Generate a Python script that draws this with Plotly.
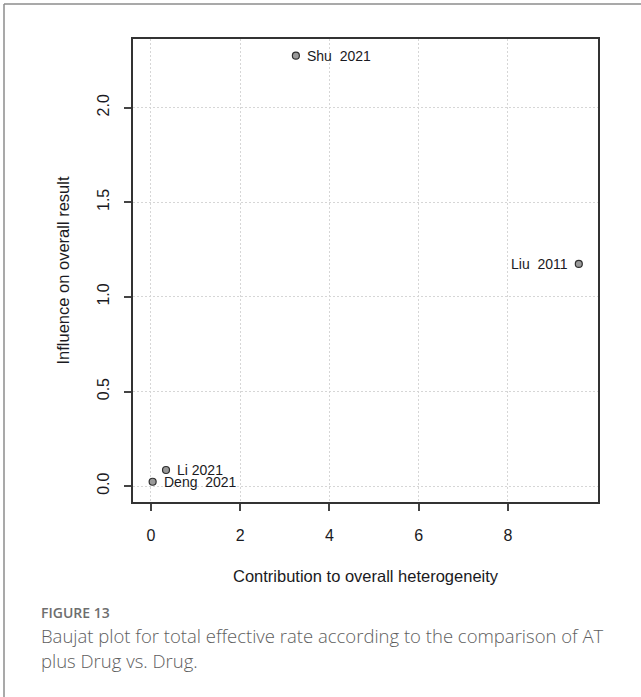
import plotly.graph_objects as go

# ---- data ----
studies = ["Shu\u00a0 2021", "Liu\u00a0 2011", "Li 2021", "Deng\u00a0 2021"]
heterogeneity = [3.25, 9.59, 0.34, 0.04]
influence = [2.275, 1.174, 0.085, 0.023]
label_side = ["right", "left", "right", "right"]
x_ticks = [0, 2, 4, 6, 8]
y_ticks = [0.0, 0.5, 1.0, 1.5, 2.0]
y_tick_text = ["0.0", "0.5", "1.0", "1.5", "2.0"]

W, H = 641, 697
L, R, T, B = 133, 598, 39, 502  # plot box in pixels
CHART_FONT = "Liberation Sans, Arial, sans-serif"
TEXT_COL = "#1a1a22"

def px(x):
    return x / W

def py(y):
    return 1 - y / H

fig = go.Figure()
fig.add_trace(go.Scatter(
    x=heterogeneity, y=influence, mode="markers",
    marker=dict(size=7, color="#9a9a9a", line=dict(color="#2e2e2e", width=1.2)),
    hoverinfo="skip", showlegend=False, cliponaxis=False,
))

axis_common = dict(
    showline=True, linecolor="#333333", linewidth=1.5, mirror=True,
    ticks="outside", ticklen=7, tickwidth=1.5, tickcolor="#444444",
    showgrid=True, gridcolor="#d6d6d6", griddash="2px,2px", gridwidth=1,
    zeroline=False, automargin=False,
    tickfont=dict(family=CHART_FONT, size=16, color=TEXT_COL),
)

point_labels = []
for name, xv, yv, side in zip(studies, heterogeneity, influence, label_side):
    point_labels.append(dict(
        text=name, x=xv, y=yv, xref="x", yref="y", showarrow=False,
        xanchor="left" if side == "right" else "right", yanchor="middle",
        xshift=9 if side == "right" else -9,
        font=dict(family=CHART_FONT, size=14, color=TEXT_COL),
    ))

fig.update_layout(
    width=W, height=H,
    margin=dict(l=0, r=0, t=0, b=0),
    paper_bgcolor="white", plot_bgcolor="white",
    xaxis=dict(domain=[px(L), px(R)], range=[-0.40, 10.02],
               tickvals=x_ticks, ticklabelstandoff=11, **axis_common),
    yaxis=dict(domain=[py(B), py(T)], range=[-0.084, 2.363],
               tickvals=y_ticks, ticktext=y_tick_text, tickangle=-90,
               ticklabelstandoff=9, **axis_common),
    shapes=[
        dict(type="line", xref="paper", yref="paper", x0=px(4), x1=1.0, y0=py(4), y1=py(4),
             line=dict(color="#8c8c8c", width=1.5)),
        dict(type="line", xref="paper", yref="paper", x0=px(4), x1=px(4), y0=py(4), y1=0.0,
             line=dict(color="#8c8c8c", width=1.5)),
    ],
    annotations=point_labels + [
        dict(text="Contribution to overall heterogeneity", xref="paper", yref="paper",
             x=px((L + R) / 2), y=py(576), xanchor="center", yanchor="middle", showarrow=False,
             font=dict(family=CHART_FONT, size=16.5, color=TEXT_COL)),
        dict(text="Influence on overall result", xref="paper", yref="paper",
             x=px(62), y=py((T + B) / 2), xanchor="center", yanchor="middle", showarrow=False,
             textangle=-90,
             font=dict(family=CHART_FONT, size=16.5, color=TEXT_COL)),
        dict(text="FIGURE 13", xref="paper", yref="paper",
             x=px(39), y=py(612), xanchor="left", yanchor="middle", showarrow=False,
             font=dict(family="Open Sans, sans-serif", size=14, color="#6e6e6e", weight=600)),
        dict(text="Baujat plot for total effective rate according to the comparison of AT",
             xref="paper", yref="paper",
             x=px(39), y=py(635), xanchor="left", yanchor="middle", showarrow=False,
             font=dict(family="Open Sans, sans-serif", size=18.5, color="#5e5e5e", weight=300)),
        dict(text="plus Drug vs. Drug.",
             xref="paper", yref="paper",
             x=px(39), y=py(660), xanchor="left", yanchor="middle", showarrow=False,
             font=dict(family="Open Sans, sans-serif", size=18.5, color="#5e5e5e", weight=300)),
    ],
)

fig.write_html("out.html")
